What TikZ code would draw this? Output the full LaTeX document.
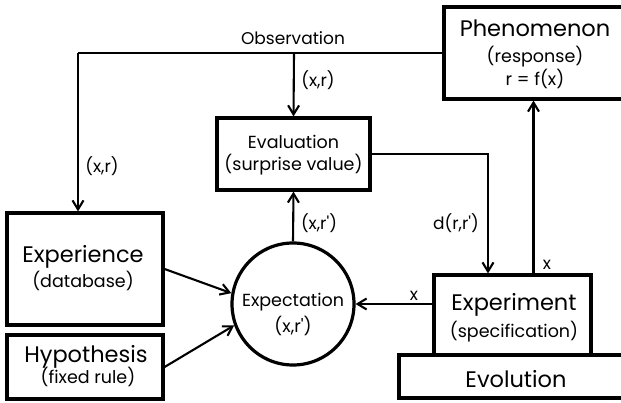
\documentclass[tikz,border=0pt]{standalone}
\usepackage{fontspec}
\setmainfont{Poppins}
\usetikzlibrary{arrows.meta}
\begin{document}
\begin{tikzpicture}[x=1pt,y=-1pt,
  box/.style={draw, line width=3.2pt, inner sep=0pt},
  conn/.style={line width=2.1pt},
  arr/.style={conn, -{Straight Barb[length=9pt,width=11pt]}},
  big/.style={inner sep=0pt, anchor=base, font=\fontsize{22.5}{26}\selectfont},
  mid/.style={inner sep=0pt, anchor=base, font=\fontsize{17.5}{20}\selectfont},
  lab/.style={inner sep=0pt, anchor=base, font=\fontsize{17}{19}\selectfont}]
\useasboundingbox (0,0) rectangle (621,403);
\clip (0,0) rectangle (621,403);

% boxes
\node[box, minimum width=179pt, minimum height=92pt] (phen) at (533.5,53) {};
\node[box, minimum width=153pt, minimum height=72pt] (eval) at (293.5,154) {};
\node[box, minimum width=156pt, minimum height=112pt] (exper) at (85,269) {};
\node[box, minimum width=156pt, minimum height=64pt] (hyp) at (85,367) {};
\node[box, minimum width=157pt, minimum height=80pt] (expt) at (512.5,315) {};
\node[box, minimum width=226pt, minimum height=43pt] (evol) at (512,376.5) {};
\node[box, circle, minimum size=122pt] (circ) at (293,304) {};

% texts
\node[big] (tphen) at (535,37) {Phenomenon};
\node[mid] (tresp) at (535,63) {(response)};
\node[mid] (tfx) at (535,86) {r = f(x)};
\node[mid] (teval) at (293.5,149) {Evaluation};
\node[mid] (tsurp) at (293.5,171) {(surprise value)};
\node[big] (texper) at (83,263) {Experience};
\node[mid] (tdb) at (83,288) {(database)};
\node[big] (thyp) at (86,362) {Hypothesis};
\node[mid] (tfix) at (88,383) {(fixed rule)};
\node[mid] (texpc) at (293,307) {Expectation};
\node[mid] (texr) at (293,332) {(x,r\textquotesingle)};
\node[big] (texpt) at (514,311) {Experiment};
\node[mid] (tspec) at (514,337) {(specification)};
\node[big] (tevol) at (516,387) {Evolution};

% connectors
\coordinate (c1) at (78,53);
\coordinate (c2) at (294,53);
\coordinate (c3) at (488,154);
\draw[conn] (phen.west) -- (c1);
\draw[arr] (c1) -- (c1 |- exper.north);
\draw[arr] (c2) -- (eval.north);
\draw[arr] (eval.east) -- (c3) -- (c3 |- expt.north);
\draw[arr] (phen.south |- expt.north) -- (phen.south);
\draw[arr] (expt.west |- circ.center) -- (circ.east);
\draw[arr] (circ.north) -- (eval.south);
\draw[arr] (exper.east) -- (circ.170);
\draw[arr] (hyp.east) -- (circ.200);

% labels
\node[lab] (lobs) at (293,45) {Observation};
\node[lab] (lxr1) at (318,87) {(x,r)};
\node[lab] (lxr2) at (102,173) {(x,r)};
\node[lab] (lxr3) at (319,230) {(x,r\textquotesingle)};
\node[lab] (ld) at (456,230) {d(r,r\textquotesingle)};
\node[lab] (lx1) at (414,301) {x};
\node[lab] (lx2) at (547,270) {x};
\end{tikzpicture}
\end{document}
